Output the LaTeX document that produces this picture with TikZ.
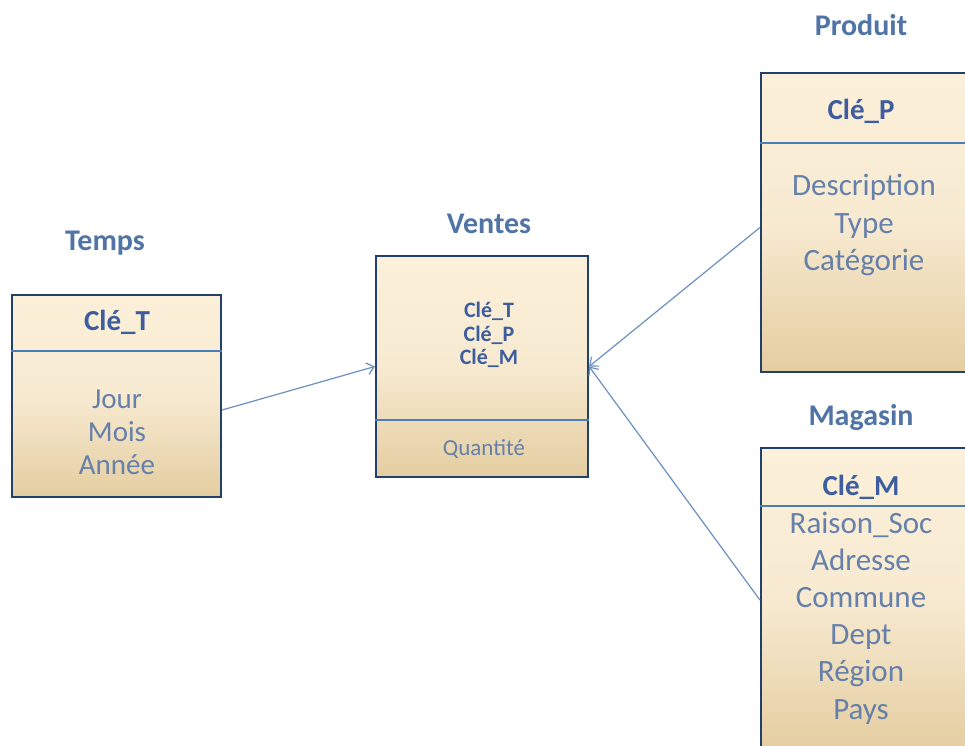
\documentclass[tikz,border=0pt]{standalone}
\usepackage{fontspec}
\setmainfont{Carlito}
\usetikzlibrary{arrows.meta}
\definecolor{frame}{HTML}{23406A}
\definecolor{sepline}{HTML}{4A7DBA}
\definecolor{titlec}{HTML}{5074A6}
\definecolor{keyc}{HTML}{3D5D9E}
\definecolor{attrc}{HTML}{6580AA}
\definecolor{linkc}{HTML}{6A90C2}
\definecolor{creamtop}{HTML}{FCF0DA}
\definecolor{creammid}{HTML}{F7EAD1}
\definecolor{tanbot}{HTML}{E4CDA0}
\tikzset{
  tablebox/.style={draw=frame, line width=2.2pt, top color=creamtop,
    bottom color=tanbot, middle color=creammid, inner sep=0pt},
  sepstyle/.style={draw=sepline, line width=2pt},
  tabletitle/.style={text=titlec, font=\bfseries\fontsize{30}{34}\selectfont},
  keytext/.style={text=keyc, font=\bfseries\fontsize{29}{33}\selectfont},
  attrlist/.style={text=attrc, align=center, inner sep=0pt},
  link/.style={draw=linkc, line width=1.2pt,
    -{Straight Barb[length=7pt,width=12pt,line width=1.2pt]}}
}
\begin{document}
\begin{tikzpicture}[x=1pt,y=-1pt]
\useasboundingbox (0,0) rectangle (965,745);
\clip (0,0) rectangle (965,745);
\fill[white] (0,0) rectangle (965,745);

% Temps
\node[tabletitle] (ttitle) at (105,243) {Temps};
\node[tablebox, minimum width=209pt, minimum height=202pt] (tbox) at (116.5,396) {};
\draw[sepstyle] (tbox.west |- 0,351) -- (tbox.east |- 0,351);
\node[keytext] (tkey) at (117,322) {Clé\_T};
\node[attrlist, font=\fontsize{29}{33}\selectfont] (tattr) at (117,432)
  {Jour\\Mois\\Année};

% Ventes
\node[tabletitle] (vtitle) at (489,224) {Ventes};
\node[tablebox, minimum width=212pt, minimum height=221pt] (vbox) at (482,366.5) {};
\draw[sepstyle] (vbox.west |- 0,420) -- (vbox.east |- 0,420);
\node[attrlist, text=keyc, font=\bfseries\fontsize{22}{23.5}\selectfont] (vkeys) at (489,335)
  {Clé\_T\\Clé\_P\\Clé\_M};
\node[attrlist, font=\fontsize{23}{25}\selectfont] (vqty) at (484,449) {Quantité};

% Produit
\node[tabletitle] (ptitle) at (861,25) {Produit};
\node[tablebox, minimum width=216pt, minimum height=299pt] (pbox) at (869,222.5) {};
\draw[sepstyle] (pbox.west |- 0,143) -- (pbox.east |- 0,143);
\node[keytext] (pkey) at (861,111) {Clé\_P};
\node[attrlist, font=\fontsize{31}{37.5}\selectfont] (pattr) at (864,225)
  {Description\\Type\\Catégorie};

% Magasin
\node[tabletitle] (mtitle) at (861,418) {Magasin};
\node[tablebox, minimum width=216pt, minimum height=304pt] (mbox) at (869,600) {};
\draw[sepstyle] (mbox.west |- 0,506) -- (mbox.east |- 0,506);
\node[keytext] (mkey) at (861,487) {Clé\_M};
\node[attrlist, font=\fontsize{31}{37.2}\selectfont] (mattr) at (861,618)
  {Raison\_Soc\\Adresse\\Commune\\Dept\\Région\\Pays};

% Links to the fact table
\draw[link] ([yshift=-14pt]tbox.east) -- (vbox.west);
\draw[link] ([yshift=-5pt]pbox.west) -- (vbox.east);
\draw[link] (mbox.west) -- (vbox.east);
\end{tikzpicture}
\end{document}
